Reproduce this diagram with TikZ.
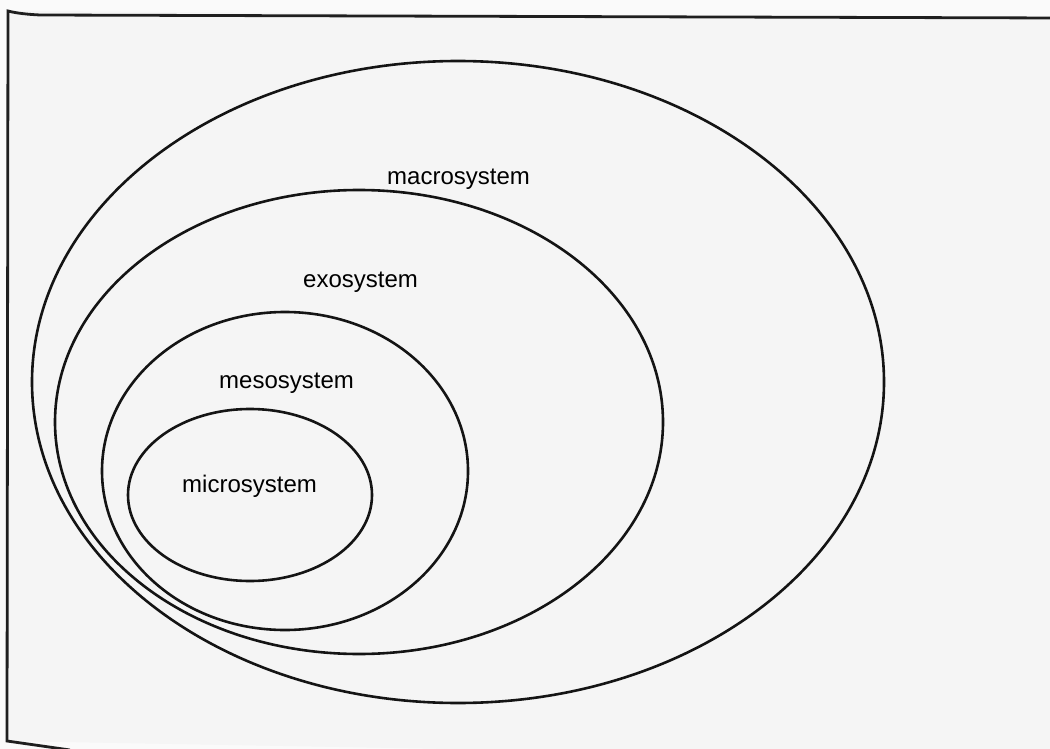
\documentclass[tikz,border=0pt]{standalone}
\usepackage{fontspec}
\setmainfont{Liberation Sans}
\begin{document}
\begin{tikzpicture}[x=1pt,y=-1pt,
  ring/.style={draw=black!92, line width=2.6pt},
  frameline/.style={draw=black!88, line width=2.8pt},
  lbl/.style={font=\fontsize{24}{28}\selectfont, inner sep=0pt, anchor=base west}]
\useasboundingbox (0,0) rectangle (1050,749);
\clip (0,0) rectangle (1050,749);
\fill[black!2] (0,0) rectangle (1050,749);
\fill[black!4] (8,11) -- (1060,18) -- (1060,760) -- (7,741) -- cycle;

% outer frame (right and lower edges run off the page)
\draw[frameline] (1060,18) -- (40,15) .. controls (20,14) and (12,12) .. (8,11) -- (7,741) -- (70,750);

% nested systems
\draw[ring] (458,382) ellipse [x radius=426pt, y radius=321pt];
\draw[ring] (359,422) ellipse [x radius=304pt, y radius=232pt];
\draw[ring] (285,471) ellipse [x radius=183pt, y radius=159pt];
\draw[ring] (250,495) ellipse [x radius=122pt, y radius=86pt];

\node[lbl] (macro) at (387,185) {macrosystem};
\node[lbl] (exo)   at (303,287) {exosystem};
\node[lbl] (meso)  at (219,388) {mesosystem};
\node[lbl] (micro) at (182,492) {microsystem};
\end{tikzpicture}
\end{document}
